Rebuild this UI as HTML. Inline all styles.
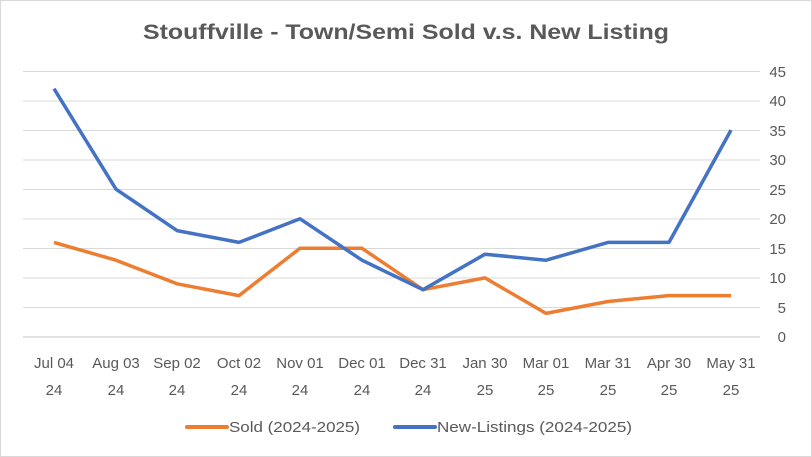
<!DOCTYPE html>
<html><head><meta charset="utf-8"><style>body{margin:0;background:#fff}svg{display:block}text{font-family:"Liberation Sans",sans-serif;fill:#595959}</style></head><body>
<svg width="812" height="457" xmlns="http://www.w3.org/2000/svg">
<rect x="0.5" y="0.5" width="811" height="456" fill="#fff" stroke="#d9d9d9"/>
<text x="406" y="39" text-anchor="middle" font-size="21" font-weight="bold" textLength="526" lengthAdjust="spacingAndGlyphs">Stouffville - Town/Semi Sold v.s. New Listing</text>
<g stroke="#d9d9d9" stroke-width="1">
<line x1="23" x2="760" y1="71.5" y2="71.5"/><line x1="23" x2="760" y1="101" y2="101"/><line x1="23" x2="760" y1="130.5" y2="130.5"/><line x1="23" x2="760" y1="160" y2="160"/><line x1="23" x2="760" y1="189.5" y2="189.5"/><line x1="23" x2="760" y1="219" y2="219"/><line x1="23" x2="760" y1="248.5" y2="248.5"/><line x1="23" x2="760" y1="278" y2="278"/><line x1="23" x2="760" y1="307.5" y2="307.5"/><line x1="23" x2="760" y1="337" y2="337" stroke-width="1.5"/>
</g>
<g font-size="15" text-anchor="end">
<text x="786" y="77">45</text><text x="786" y="106">40</text><text x="786" y="136">35</text><text x="786" y="165">30</text><text x="786" y="195">25</text><text x="786" y="224">20</text><text x="786" y="254">15</text><text x="786" y="283">10</text><text x="786" y="313">5</text><text x="786" y="342">0</text>
</g>
<g font-size="15" text-anchor="middle">
<text x="54" y="368">Jul 04</text><text x="54" y="395">24</text>
<text x="116" y="368">Aug 03</text><text x="116" y="395">24</text>
<text x="177" y="368">Sep 02</text><text x="177" y="395">24</text>
<text x="239" y="368">Oct 02</text><text x="239" y="395">24</text>
<text x="300" y="368">Nov 01</text><text x="300" y="395">24</text>
<text x="362" y="368">Dec 01</text><text x="362" y="395">24</text>
<text x="423" y="368">Dec 31</text><text x="423" y="395">24</text>
<text x="485" y="368">Jan 30</text><text x="485" y="395">25</text>
<text x="546" y="368">Mar 01</text><text x="546" y="395">25</text>
<text x="608" y="368">Mar 31</text><text x="608" y="395">25</text>
<text x="669" y="368">Apr 30</text><text x="669" y="395">25</text>
<text x="731" y="368">May 31</text><text x="731" y="395">25</text>
</g>
<polyline fill="none" stroke="#ed7d31" stroke-width="3.5" stroke-linejoin="round" points="54,242.4 116,260.2 177,283.8 239,295.6 300,248.3 362,248.3 423,289.7 485,277.9 546,313.4 608,301.5 669,295.6 731,295.6"/>
<polyline fill="none" stroke="#4472c4" stroke-width="3.5" stroke-linejoin="round" points="54,88.7 116,189.2 177,230.6 239,242.4 300,218.8 362,260.2 423,289.7 485,254.2 546,260.2 608,242.4 669,242.4 731,130.1"/>
<line x1="187" x2="227" y1="427" y2="427" stroke="#ed7d31" stroke-width="4" stroke-linecap="round"/>
<text x="229" y="432" font-size="15" textLength="131" lengthAdjust="spacingAndGlyphs">Sold (2024-2025)</text>
<line x1="395" x2="435" y1="427" y2="427" stroke="#4472c4" stroke-width="4" stroke-linecap="round"/>
<text x="437" y="432" font-size="15" textLength="195" lengthAdjust="spacingAndGlyphs">New-Listings (2024-2025)</text>
</svg>
</body></html>
